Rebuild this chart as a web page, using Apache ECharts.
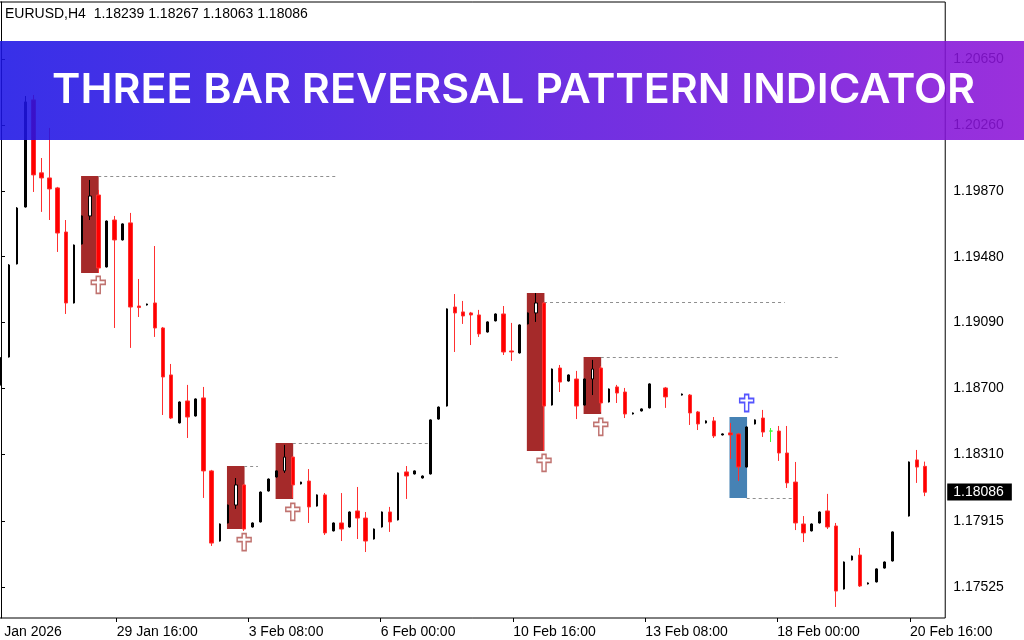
<!DOCTYPE html>
<html><head><meta charset="utf-8">
<script src="https://cdn.jsdelivr.net/npm/echarts@6/dist/echarts.min.js"></script>
<style>html,body{margin:0;padding:0;background:#fff}#c{width:1024px;height:640px}</style>
</head><body><div id="c"></div>
<script>
// ---------- data ----------
const headerText = 'EURUSD,H4  1.18239 1.18267 1.18063 1.18086';
const titleText = 'THREE BAR REVERSAL PATTERN INDICATOR';
const days = ['27 Jan','28 Jan','29 Jan','30 Jan','2 Feb','3 Feb','4 Feb','5 Feb','6 Feb','9 Feb','10 Feb','11 Feb','12 Feb','13 Feb','16 Feb','17 Feb','18 Feb','19 Feb','20 Feb','23 Feb'];
const hours = ['00:00','04:00','08:00','12:00','16:00','20:00'];
const leadBars = 2;      // empty bars before the first visible bar
const totalBars = 119;   // bars on the time axis (incl. empty right margin)

const open = [1.18721,1.18886,1.19437,1.19774,1.20408,1.19976,1.19946,1.19887,1.19626,1.19206,
1.19555,1.19721,1.19845,1.19419,1.19697,1.19579,1.19680,1.19188,1.19194,1.19206,
1.19058,1.18780,1.18496,1.18626,1.18537,1.18644,1.18212,1.17797,1.17904,1.18010,
1.18129,1.17880,1.17910,1.18093,1.18176,1.18212,1.18294,1.18135,1.18152,1.18004,
1.18070,1.17857,1.17904,1.17880,1.17975,1.17933,1.17809,1.17880,1.17969,1.17922,
1.18206,1.18194,1.18170,1.18194,1.18519,1.18596,1.19182,1.19153,1.19147,1.19135,
1.19034,1.19100,1.19141,1.18922,1.18910,1.19082,1.19147,1.19206,1.18602,1.18821,
1.18744,1.18756,1.18602,1.18756,1.18821,1.18620,1.18709,1.18679,1.18549,1.18567,
1.18585,null,1.18703,null,1.18661,1.18661,1.18561,1.18496,1.18508,1.18425,
1.18437,1.18431,1.18235,1.18490,1.18525,1.18448,1.18448,1.18318,1.18146,1.17898,
1.17857,1.17904,1.17975,1.17886,1.17513,1.17685,1.17714,1.17543,1.17555,1.17637,
1.17679,null,1.17945,1.18277,1.18239];
const close = [1.18880,1.19431,1.19768,1.20396,1.19964,1.19946,1.19881,1.19620,1.19206,1.19549,
1.19721,1.19839,1.19413,1.19691,1.19579,1.19674,1.19182,1.19179,1.19200,1.19058,
1.18768,1.18525,1.18620,1.18531,1.18638,1.18212,1.17785,1.17898,1.18010,1.18129,
1.17868,1.17904,1.18087,1.18164,1.18212,1.18294,1.18129,1.18146,1.17999,1.18070,
1.17845,1.17904,1.17868,1.17969,1.17933,1.17797,1.17868,1.17969,1.17910,1.18200,
1.18182,1.18212,1.18182,1.18514,1.18590,1.19171,1.19147,1.19129,1.19135,1.19023,
1.19094,1.19141,1.18916,1.18916,1.19076,1.19147,1.19206,1.18596,1.18815,1.18738,
1.18780,1.18596,1.18756,1.18815,1.18614,1.18697,1.18673,1.18549,1.18555,1.18579,
1.18727,null,1.18650,null,1.18667,1.18555,1.18490,1.18508,1.18419,1.18431,
1.18425,1.18235,1.18472,1.18514,1.18442,1.18448,1.18318,1.18141,1.17904,1.17845,
1.17898,1.17969,1.17880,1.17501,1.17673,1.17708,1.17531,1.17549,1.17632,1.17673,
1.17851,null,1.18265,1.18235,1.18086];
const high = [1.18885,1.19436,1.19773,1.20431,1.20437,1.20064,1.20242,1.19893,1.19697,1.19552,
1.19724,1.19934,1.19875,1.19694,1.19721,1.19677,1.19739,1.19348,1.19202,1.19543,
1.19064,1.18845,1.18623,1.18721,1.18641,1.18709,1.18218,1.17901,1.18013,1.18170,
1.18135,1.17907,1.18090,1.18167,1.18215,1.18366,1.18300,1.18148,1.18223,1.18073,
1.18081,1.17907,1.18081,1.17972,1.18117,1.17969,1.17871,1.17972,1.17999,1.18203,
1.18241,1.18215,1.18185,1.18517,1.18593,1.19174,1.19259,1.19218,1.19153,1.19165,
1.19097,1.19144,1.19188,1.19088,1.19079,1.19150,1.19265,1.19212,1.18818,1.18839,
1.18783,1.18804,1.18759,1.18869,1.18833,1.18700,1.18721,1.18703,1.18558,1.18582,
1.18730,null,1.18709,null,1.18670,1.18667,1.18567,1.18511,1.18531,1.18434,
1.18496,1.18437,1.18475,1.18517,1.18573,1.18466,1.18478,1.18478,1.18265,1.17945,
1.17901,1.17972,1.18076,1.17904,1.17676,1.17711,1.17756,1.17552,1.17635,1.17676,
1.17854,null,1.18268,1.18336,1.18267];
const low = [1.18718,1.18883,1.19434,1.19771,1.19863,1.19745,1.19697,1.19508,1.19141,1.19203,
1.19552,1.19697,1.19384,1.19416,1.19058,1.19576,1.18940,1.19123,1.19191,1.19005,
1.18543,1.18519,1.18493,1.18407,1.18534,1.18052,1.17768,1.17794,1.17901,1.17987,
1.17857,1.17877,1.17907,1.18090,1.18173,1.18200,1.18052,1.18132,1.17904,1.18001,
1.17833,1.17854,1.17797,1.17877,1.17809,1.17732,1.17806,1.17877,1.17851,1.17919,
1.18046,1.18191,1.18167,1.18191,1.18516,1.18593,1.18916,1.19082,1.18957,1.19005,
1.19031,1.19097,1.18898,1.18863,1.18907,1.19079,1.19094,1.18330,1.18599,1.18679,
1.18741,1.18519,1.18599,1.18661,1.18561,1.18617,1.18614,1.18525,1.18546,1.18564,
1.18582,null,1.18585,null,1.18658,1.18484,1.18454,1.18493,1.18407,1.18422,
1.18283,1.18152,1.18232,1.18487,1.18413,1.18383,1.18271,1.18111,1.17862,1.17791,
1.17854,1.17901,1.17868,1.17407,1.17510,1.17682,1.17525,1.17540,1.17552,1.17634,
1.17676,null,1.17942,1.18141,1.18063];
const highlightedBars = [11,29,35,66,73];   // middle bar of each bearish pattern (drawn hollow)
const dojiBars = [95];                      // doji drawn in line colour

const priceTicks = [1.17525,1.17915,1.18310,1.18700,1.19090,1.19480,1.19870,1.20260,1.20650];
const timeTickLabels = ['27 Jan 2026','29 Jan 16:00','3 Feb 08:00','6 Feb 00:00','10 Feb 16:00','13 Feb 08:00','18 Feb 00:00','20 Feb 16:00'];
const timeTickAt = [-2.01,14.28,30.56,46.85,63.2,79.5,95.78,112.15];

// three-bar patterns
const patFirstBar = [10,28,34,65,72,90];
const patLastBar  = [12,30,36,67,74,92];
const patTop      = [1.19958,1.18241,1.18377,1.19265,1.18886,1.18531];
const patBottom   = [1.19384,1.17868,1.18046,1.18330,1.18549,1.18052];
const patBull     = [0,0,0,0,0,1];
const levelPrice  = [1.19958,1.18241,1.18377,1.19212,1.18886,1.18052];
const levelEndBar = [41.6,31.7,52.9,96.7,103.5,97.7];
const signalPrice = [1.19313,1.17791,1.17969,1.18259,1.18472,1.18614];

// ---------- build ----------
const categories = [];
days.forEach(d => hours.forEach(h => categories.push(d + ' ' + h)));
categories.length = totalBars;

const EMPTY = ['-','-','-','-'];
const redData = [], blackData = [], whiteData = [], dojiData = [];
for (let c = 0; c < totalBars; c++) {
  const k = c - leadBars;
  let item = null;
  if (k >= 0 && k < open.length && open[k] != null) item = [open[k], close[k], low[k], high[k]];
  const isWhite = highlightedBars.includes(k), isDoji = dojiBars.includes(k);
  redData.push(item && !isWhite && !isDoji && close[k] < open[k] ? item : EMPTY);
  blackData.push(item && !isWhite && !isDoji && close[k] >= open[k] ? item : EMPTY);
  whiteData.push(item && isWhite ? item : EMPTY);
  dojiData.push(item && isDoji ? item : EMPTY);
}
const lastClose = close[close.length - 1];

function candle(name, data, width, fill, border, z) {
  return {
    type: 'candlestick', name, data, barWidth: width, z,
    xAxisIndex: 0, yAxisIndex: 0, silent: true,
    itemStyle: {color: fill, color0: fill, borderColor: border, borderColor0: border, borderWidth: 1}
  };
}

const crossPath = 'path://M5,0 L9,0 L9,4 L14,4 L14,8 L9,8 L9,17 L5,17 L5,8 L0,8 L0,4 L5,4 Z';

// title scale to fit width
const mctx = document.createElement('canvas').getContext('2d');
const titleFont = '600 41px Inter';
mctx.font = titleFont;
const titleScale = 923 / mctx.measureText(titleText).width;

const chart = echarts.init(document.getElementById('c'), null, {renderer: 'canvas'});
const barW = 8.105;
const gridLeft = 1 - (leadBars + 0.5) * barW;
const xMax = totalBars - leadBars - 0.5;
chart.setOption({
  animation: false,
  backgroundColor: '#ffffff',
  grid: {left: gridLeft, top: 2, width: totalBars * barW, height: 616, show: true, borderColor: '#000', borderWidth: 1,
         backgroundColor: 'transparent', containLabel: false, outerBoundsMode: 'none'},
  xAxis: [
    {type: 'category', data: categories, position: 'bottom', boundaryGap: true,
     axisLine: {show: false}, axisTick: {show: false}, axisLabel: {show: false}, splitLine: {show: false}},
    {type: 'value', position: 'bottom', min: -leadBars - 0.5, max: xMax,
     axisLine: {show: false}, splitLine: {show: false},
     axisTick: {show: true, customValues: timeTickAt, length: 4, lineStyle: {color: '#000'}},
     axisLabel: {show: true, customValues: timeTickAt, align: 'left', margin: 7,
       fontFamily: 'Liberation Sans', fontSize: 14, color: '#000',
       formatter: (v) => {
         let bi = 0, bd = 1e9;
         timeTickAt.forEach((t, i) => { const d = Math.abs(t - v); if (d < bd) { bd = d; bi = i; } });
         return timeTickLabels[bi];
       }}}
  ],
  yAxis: [{
    type: 'value', position: 'right', min: 1.173415, max: 1.209873,
    axisLine: {show: true, lineStyle: {color: '#000'}},
    axisTick: {show: true, customValues: priceTicks, length: 4, lineStyle: {color: '#000'}},
    axisLabel: {show: true, customValues: priceTicks, margin: 8, fontFamily: 'Liberation Sans', fontSize: 14, color: '#000',
      formatter: (v) => v.toFixed(5)},
    splitLine: {show: false}
  }],
  series: [
    {type: 'custom', name: 'patterns', xAxisIndex: 1, yAxisIndex: 0, z: 1, silent: true,
     data: patFirstBar.map((s, i) => [s, patLastBar[i], patTop[i], patBottom[i], patBull[i]]),
     encode: {x: [0, 1], y: [2, 3]},
     renderItem: (params, api) => {
       const p1 = api.coord([api.value(0) - 0.12, api.value(2)]);
       const p2 = api.coord([api.value(1) + 0.05, api.value(3)]);
       return {type: 'rect', shape: {x: p1[0], y: p1[1], width: p2[0] - p1[0], height: p2[1] - p1[1]},
               style: {fill: api.value(4) ? '#4682b4' : '#a52a2a'}};
     }},
    {type: 'custom', name: 'levels', xAxisIndex: 1, yAxisIndex: 0, z: 1, silent: true,
     data: patLastBar.map((s, i) => [s, levelEndBar[i], levelPrice[i]]),
     encode: {x: [0, 1], y: 2},
     renderItem: (params, api) => {
       const p1 = api.coord([api.value(0), api.value(2)]);
       const p2 = api.coord([api.value(1), api.value(2)]);
       const y = Math.round(p1[1]) + 0.5;
       return {type: 'line', shape: {x1: p1[0], y1: y, x2: p2[0], y2: y},
               style: {stroke: '#8f8f8f', lineWidth: 1, lineDash: [3, 3]}};
     }},
    candle('bear', redData, 4, '#ff0000', '#ff3030', 3),
    candle('bull', blackData, 2, '#000000', '#000000', 3),
    candle('pattern middle', whiteData, 3, '#ffffff', '#000000', 3),
    candle('doji', dojiData, 4, '#00ff00', '#33ff33', 3),
    {type: 'scatter', name: 'signals', xAxisIndex: 1, yAxisIndex: 0, z: 4, silent: true,
     symbol: crossPath, symbolSize: [14, 17],
     data: patLastBar.map((b, i) => ({value: [b, signalPrice[i]],
       itemStyle: {color: '#ffffff', borderColor: patBull[i] ? '#2b2bff' : '#b0504c', borderWidth: 1.6}}))}
  ],
  graphic: [
    {id: 'header', type: 'text', left: 5, top: 7, z: 50, silent: true,
     style: {text: headerText, fill: '#000', font: '14px "Liberation Sans"'}},
    {id: 'banner', type: 'rect', z: 100, silent: true, shape: {x: 0, y: 41, width: 1024, height: 99},
     style: {fill: new echarts.graphic.LinearGradient(0, 0, 1, 0, [
       {offset: 0, color: '#1c14e5'}, {offset: 1, color: '#8d14d7'}]), opacity: 0.88}},
    {id: 'title', type: 'text', z: 101, silent: true, x: 513.5, y: 91, scaleX: titleScale,
     style: {text: titleText, fill: '#fff', font: titleFont, textAlign: 'center', textVerticalAlign: 'middle'}}
  ]
});

// current-price tag on the price scale, placed through the chart's own scales
const tagY = chart.convertToPixel({yAxisIndex: 0}, lastClose);
const tagX = chart.convertToPixel({xAxisIndex: 1}, xMax) + 2;
chart.setOption({graphic: [
  {id: 'priceTag', type: 'text', z: 60, silent: true, x: tagX, y: Math.round(tagY),
   style: {text: lastClose.toFixed(5), fill: '#fff', backgroundColor: '#000', padding: [2, 8, 1, 6],
           font: '14px "Liberation Sans"', textAlign: 'left', textVerticalAlign: 'middle'}}
]});
</script></body></html>
